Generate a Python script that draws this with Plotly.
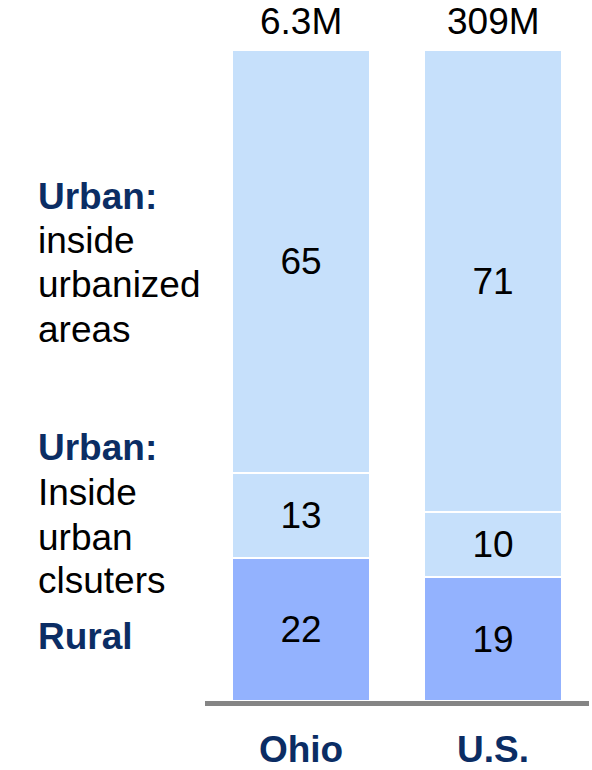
import plotly.graph_objects as go

categories = ["Ohio", "U.S."]
rural = [22, 19]
urban_clusters = [13, 10]
urbanized = [65, 71]
totals = ["6.3M", "309M"]

FONT = "Liberation Sans, Arial, sans-serif"
FS = 37
NAVY = "#0B2D64"
LIGHT = "#C6E0FB"
RURAL_C = "#93B2FE"

fig = go.Figure()
for vals, col in [(rural, RURAL_C), (urban_clusters, LIGHT), (urbanized, LIGHT)]:
    fig.add_trace(go.Bar(
        x=categories, y=vals, text=[str(v) for v in vals],
        textposition="inside", insidetextanchor="middle",
        textfont=dict(family=FONT, size=FS, color="black"),
        marker=dict(color=col, line=dict(color="white", width=2)),
        constraintext="none", hoverinfo="skip",
    ))

for c, t in zip(categories, totals):
    fig.add_annotation(x=c, y=100, xref="x", yref="y", text=t, showarrow=False,
                       yanchor="bottom", yshift=6,
                       font=dict(family=FONT, size=FS, color="black"))

W0, W1 = 205, 589
T, B = 50, 701

def px(x):
    return (x - W0) / (W1 - W0)

def py(y):
    return (B - y) / (B - T)

# left-side category labels: (text, bold?, baseline pixel)
left_lines = [
    ("Urban:", True, 209),
    ("inside", False, 253),
    ("urbanized", False, 297),
    ("areas", False, 342),
    ("Urban:", True, 460),
    ("Inside", False, 505),
    ("urban", False, 550),
    ("clsuters", False, 593),
    ("Rural", True, 649),
]
for txt, bold, base in left_lines:
    fig.add_annotation(x=px(36), y=py(base - 0.35 * FS), xref="paper", yref="paper",
                       text=f"<b>{txt}</b>" if bold else txt,
                       showarrow=False, xanchor="left", yanchor="middle", align="left",
                       font=dict(family=FONT, size=FS, color=NAVY if bold else "black"))

fig.update_layout(
    barmode="stack", bargap=0.28,
    width=592, height=770,
    margin=dict(l=W0, r=592 - W1, t=T, b=770 - B, pad=0),
    plot_bgcolor="white", paper_bgcolor="white",
    showlegend=False,
    xaxis=dict(showline=True, linecolor="#858585", linewidth=5, ticks="",
               tickfont=dict(family=FONT, size=FS, color=NAVY, weight="bold"),
               ticklabelstandoff=12, automargin=False, showgrid=False),
    yaxis=dict(range=[0, 100], showticklabels=False, showgrid=False,
               zeroline=False, automargin=False),
)

fig.write_html("out.html", config={"displayModeBar": False},
               post_script="document.body.style.margin='0px';document.body.style.overflow='hidden';")
